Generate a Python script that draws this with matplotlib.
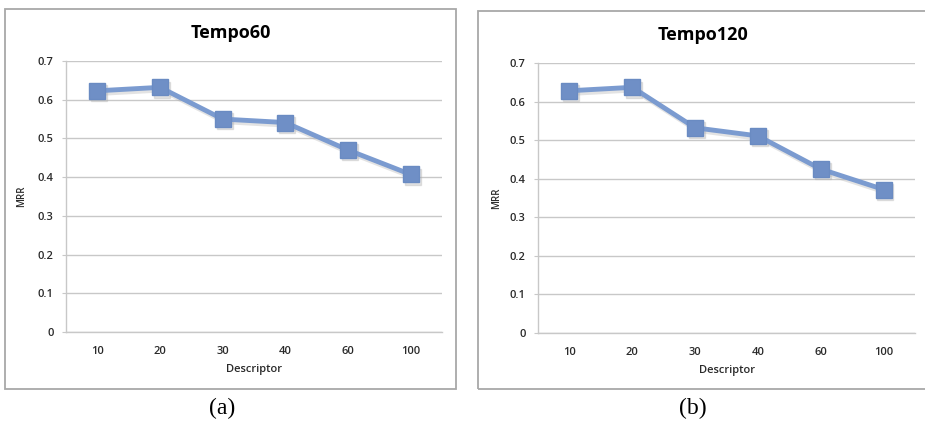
import matplotlib.pyplot as plt
from matplotlib.patches import Rectangle

descriptors = ['10', '20', '30', '40', '60', '100']
mrr_tempo60 = [0.623, 0.632, 0.550, 0.541, 0.470, 0.407]
mrr_tempo120 = [0.628, 0.637, 0.532, 0.511, 0.425, 0.372]
y_ticks = [0, 0.1, 0.2, 0.3, 0.4, 0.5, 0.6, 0.7]

W, H = 925, 426
line_color = '#7b9bd0'
marker_color = '#6f8fc6'
grid_color = '#c8c8c8'
text_font = 'Open Sans'

fig = plt.figure(figsize=(W / 100, H / 100), dpi=100)


def px_axes(left, top, right, bottom):
    # pixel box (image coords, y down) -> figure axes
    return fig.add_axes([left / W, 1 - bottom / H, (right - left) / W, (bottom - top) / H])


def draw_panel(ax, values, title, caption, frame, title_xy, caption_xy, ylabel_x):
    x = range(len(descriptors))
    # soft drop shadow under the series
    ax.plot([i + 0.03 for i in x], [v - 0.006 for v in values], color='#b0b0b0', lw=4,
            marker='s', ms=12, alpha=0.35, zorder=2, solid_joinstyle='round')
    ax.plot(x, values, color=line_color, lw=3.5, marker='s', ms=12,
            markerfacecolor=marker_color, markeredgecolor='#6a8bc2', zorder=3)
    ax.set_xlim(-0.5, len(descriptors) - 0.5)
    ax.set_ylim(0, 0.7)
    ax.set_yticks(y_ticks)
    ax.set_yticklabels(['0' if t == 0 else f'{t:.1f}' for t in y_ticks])
    ax.set_xticks(list(x))
    ax.set_xticklabels(descriptors)
    ax.grid(axis='y', color=grid_color, lw=1)
    ax.set_axisbelow(True)
    for side in ['top', 'right']:
        ax.spines[side].set_visible(False)
    for side in ['left', 'bottom']:
        ax.spines[side].set_color(grid_color)
        ax.spines[side].set_linewidth(1)
    ax.tick_params(axis='y', length=3, color=grid_color, labelsize=8, pad=6)
    ax.tick_params(axis='x', length=0, labelsize=8, pad=10)
    for lab in ax.get_xticklabels() + ax.get_yticklabels():
        lab.set_fontfamily(text_font)
        lab.set_fontweight('semibold')
        lab.set_color('#2a2a2a')
    ax.set_xlabel('Descriptor', fontsize=8, family=text_font, fontweight='semibold',
                  color='#2a2a2a', labelpad=5)
    ax.set_ylabel('MRR', fontsize=7, family=text_font, fontweight='semibold',
                  color='#2a2a2a')
    ax.yaxis.set_label_coords(ylabel_x, 0.5)

    fig.patches.append(Rectangle((frame[0] / W, 1 - frame[3] / H), (frame[2] - frame[0]) / W,
                                 (frame[3] - frame[1]) / H, transform=fig.transFigure,
                                 fill=False, edgecolor='#a8a8a8', lw=1.3))
    fig.text(title_xy[0] / W, 1 - title_xy[1] / H, title, ha='center', va='center',
             fontsize=13, fontweight='bold', family=text_font)
    fig.text(caption_xy[0] / W, 1 - caption_xy[1] / H, caption, ha='center', va='center',
             fontsize=17, family='Liberation Serif')


ax_a = px_axes(66, 61, 442, 332)
draw_panel(ax_a, mrr_tempo60, 'Tempo60', '(a)', (5, 9, 456, 389), (231, 33), (222, 408), -0.104)

ax_b = px_axes(538, 63, 915, 333)
draw_panel(ax_b, mrr_tempo120, 'Tempo120', '(b)', (478, 11, 930, 389), (703, 35), (693, 408), -0.095)

fig.savefig('out.png', dpi=100)
